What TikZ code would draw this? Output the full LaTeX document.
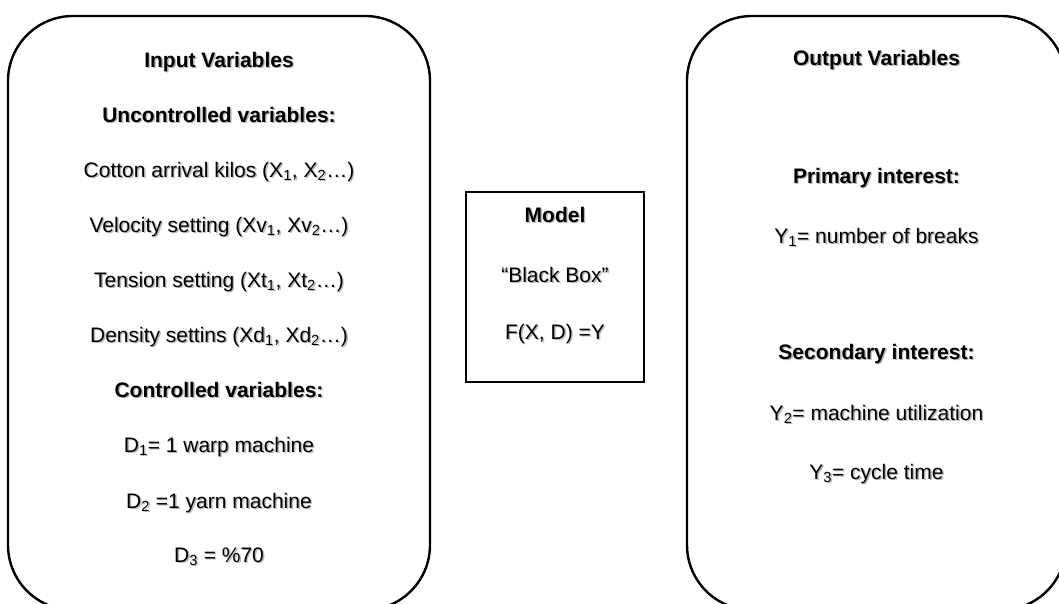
\documentclass[tikz,border=0pt]{standalone}
\usepackage{fontspec}
\setmainfont{Liberation Sans}
\usetikzlibrary{positioning}

% text with a soft grey drop shadow: style, name, position, text
\newcommand\shtxt[4]{%
  \node[#1, text=black!28, xshift=1.4pt, yshift=-1.4pt] at (#3) {#4};
  \node[#1] (#2) at (#3) {#4};
}

\tikzset{
  frame/.style={draw=black, line width=2.4pt, rounded corners=65pt, inner sep=0pt},
  modelbox/.style={draw=black, line width=2.4pt, inner sep=0pt},
  txt/.style={font=\fontsize{21}{25}\selectfont, inner sep=0pt,
              text height=15pt, text depth=4.5pt, anchor=center},
  head/.style={txt, font=\fontsize{21}{25}\selectfont\bfseries},
}

\begin{document}
\begin{tikzpicture}[x=1pt, y=-1pt]
  \useasboundingbox (0,0) rectangle (1059,604);
  \clip (0,0) rectangle (1059,604);
  \fill[white] (0,0) rectangle (1059,604);

  % the three boxes
  \node[frame, minimum width=422pt, minimum height=594pt] (inbox) at (219,313) {};
  \node[frame, minimum width=379pt, minimum height=594pt] (outbox) at (876.5,313) {};
  \node[modelbox, minimum width=178pt, minimum height=190pt] (model) at (555,287) {};

  % input side
  \shtxt{head}{inhead}{219,62}{Input Variables}
  \shtxt{head}{unctrl}{219,117}{Uncontrolled variables:}
  \shtxt{txt}{cotton}{219,172}{Cotton arrival kilos (X\textsubscript{1}, X\textsubscript{2}…)}
  \shtxt{txt}{velo}{219,227}{Velocity setting (Xv\textsubscript{1}, Xv\textsubscript{2}…)}
  \shtxt{txt}{tens}{219,282}{Tension setting (Xt\textsubscript{1}, Xt\textsubscript{2}…)}
  \shtxt{txt}{dens}{219,337}{Density settins (Xd\textsubscript{1}, Xd\textsubscript{2}…)}
  \shtxt{head}{ctrl}{219,392}{Controlled variables:}
  \shtxt{txt}{done}{219,447}{D\textsubscript{1}= 1 warp machine}
  \shtxt{txt}{dtwo}{219,503}{D\textsubscript{2} =1 yarn machine}
  \shtxt{txt}{dthree}{219,557}{D\textsubscript{3} = \%70}

  % model
  \shtxt{head}{mhead}{555,217}{Model}
  \shtxt{txt}{mblack}{555,277}{“Black Box”}
  \shtxt{txt}{mfunc}{555,334}{F(X, D) =Y}

  % output side
  \shtxt{head}{outhead}{876.5,60}{Output Variables}
  \shtxt{head}{prim}{876.5,178}{Primary interest:}
  \shtxt{txt}{yone}{876.5,238}{Y\textsubscript{1}= number of breaks}
  \shtxt{head}{sec}{876.5,354}{Secondary interest:}
  \shtxt{txt}{ytwo}{876.5,415}{Y\textsubscript{2}= machine utilization}
  \shtxt{txt}{ythree}{876.5,474}{Y\textsubscript{3}= cycle time}
\end{tikzpicture}
\end{document}
